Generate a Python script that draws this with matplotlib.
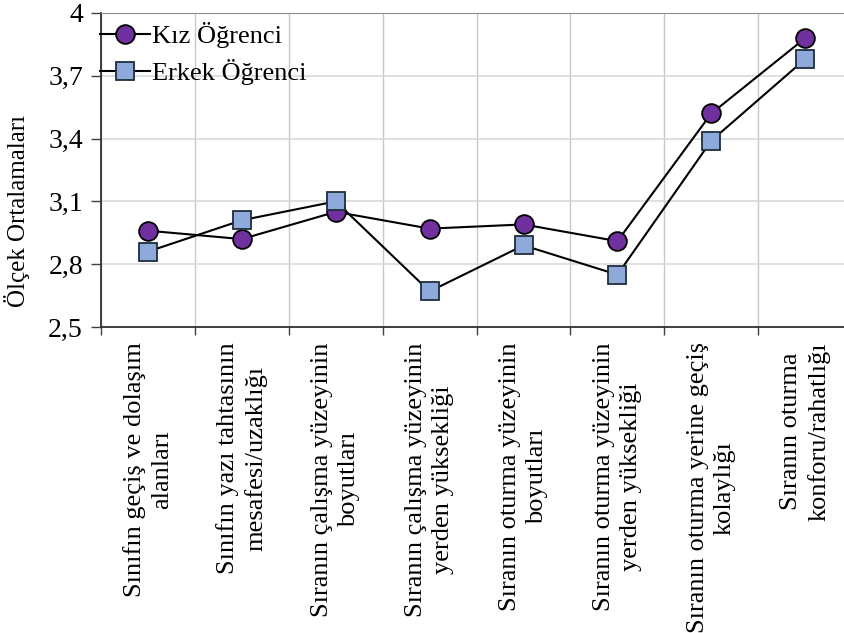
import numpy as np
import matplotlib.pyplot as plt
from matplotlib.ticker import FixedLocator, FuncFormatter

plt.rcParams['font.family'] = ['Liberation Serif', 'DejaVu Serif']

categories = [
    "Sınıfın geçiş ve dolaşım\nalanları",
    "Sınıfın yazı tahtasının\nmesafesi/uzaklığı",
    "Sıranın çalışma yüzeyinin\nboyutları",
    "Sıranın çalışma yüzeyinin\nyerden yüksekliği",
    "Sıranın oturma yüzeyinin\nboyutları",
    "Sıranın oturma yüzeyinin\nyerden yüksekliği",
    "Sıranın oturma yerine geçiş\nkolaylığı",
    "Sıranın oturma\nkonforu/rahatlığı",
]
kiz = [2.96, 2.92, 3.05, 2.97, 2.99, 2.91, 3.52, 3.88]
erkek = [2.86, 3.01, 3.10, 2.67, 2.89, 2.75, 3.39, 3.78]
yticks = [2.5, 2.8, 3.1, 3.4, 3.7, 4.0]

fig = plt.figure(figsize=(8.45, 6.33), dpi=100)
ax = fig.add_axes([0.1195, 0.4834, 0.889, 0.4961])

x = np.arange(len(categories))
ax.plot(x, kiz, color='black', lw=1.5, marker='o', ms=13.5,
        mfc='#7030A0', mec='black', mew=1.3, label='Kız Öğrenci', zorder=3)
ax.plot(x, erkek, color='black', lw=1.5, marker='s', ms=12.5,
        mfc='#8EAADB', mec='#1F2D3D', mew=1.3, label='Erkek Öğrenci', zorder=4)

ax.set_xlim(-0.5, len(categories) - 0.5)
ax.set_ylim(2.5, 4.0)

# category boundaries carry the ticks and vertical grid
ax.set_xticks(x)
ax.set_xticklabels(categories, rotation=90, ha='center', va='top',
                   multialignment='center', fontsize=19, linespacing=1.3)
ax.xaxis.set_minor_locator(FixedLocator(np.arange(-0.5, len(categories), 1.0)))
ax.tick_params(axis='x', which='major', length=0, pad=11)
ax.tick_params(axis='x', which='minor', length=6, width=1.0, color='#404040')
ax.grid(axis='x', which='minor', color='#C8C8C8', lw=1.0)

ax.set_yticks(yticks)
ax.yaxis.set_major_formatter(FuncFormatter(lambda v, p: f"{v:g}".replace('.', ',')))
ax.tick_params(axis='y', length=7, width=1.0, color='#404040', labelsize=20, pad=6)
ax.grid(axis='y', which='major', color='#D9D9D9', lw=1.2)
ax.set_axisbelow(True)

ax.set_ylabel("Ölçek Ortalamaları", fontsize=18)
ax.yaxis.set_label_coords(-0.095, 0.37)

for side in ['left', 'bottom']:
    ax.spines[side].set_color('#303030')
    ax.spines[side].set_linewidth(1.3)
ax.spines['top'].set_color('#8C8C8C')
ax.spines['right'].set_visible(False)

ax.legend(loc='upper left', bbox_to_anchor=(-0.023, 1.022), frameon=False,
          fontsize=19, handlelength=1.9, handletextpad=0.1, labelspacing=0.43,
          borderaxespad=0.2)

fig.savefig("out.png", dpi=100)
